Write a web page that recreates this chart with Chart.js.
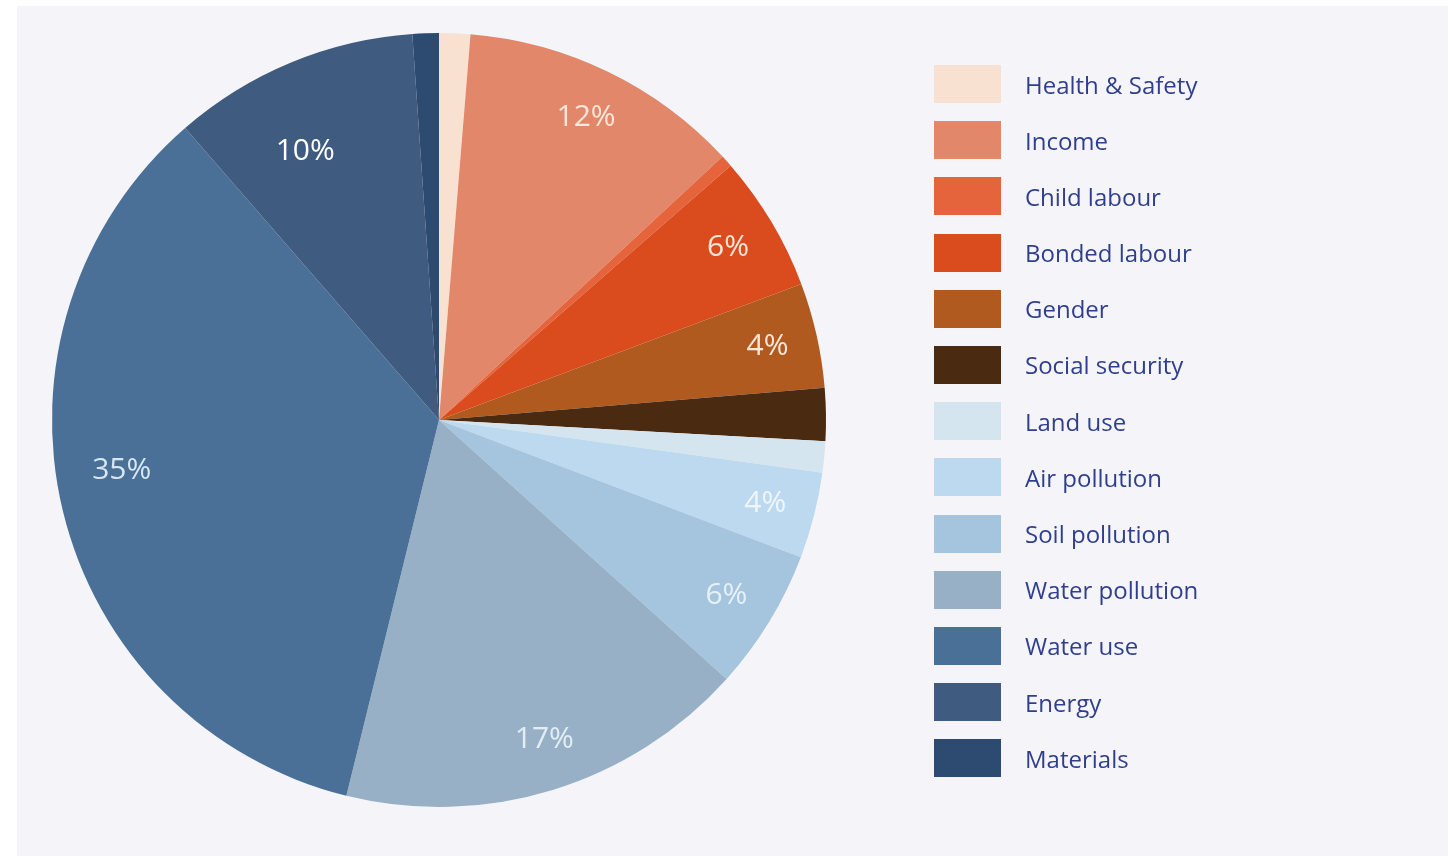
<!DOCTYPE html>
<html>
<head>
<meta charset="utf-8">
<script src="https://cdn.jsdelivr.net/npm/chart.js@4.4.1/dist/chart.umd.min.js"></script>
<style>
  html, body { margin: 0; padding: 0; background: #ffffff; width: 1448px; height: 858px; overflow: hidden; }
  #panel { position: absolute; left: 17px; top: 6px; right: 0; bottom: 2px; background: #f5f5f9; }
  #wrap { position: absolute; left: 0; top: 0; width: 1448px; height: 858px; }
  #legend { position: absolute; left: 934px; top: 65px; font-family: "Open Sans", sans-serif; font-size: 24px; color: #2f3f8e; }
  .item { display: flex; align-items: center; height: 38px; margin-bottom: 18.2px; }
  .box { width: 67px; height: 38px; margin-right: 24px; }
</style>
</head>
<body>
<div id="panel"></div>
<div id="wrap"><canvas id="c" width="1448" height="858"></canvas></div>
<div id="legend"></div>
<script>
const categories = ["Health & Safety", "Income", "Child labour", "Bonded labour", "Gender", "Social security",
  "Land use", "Air pollution", "Soil pollution", "Water pollution", "Water use", "Energy", "Materials"];
const shares = [1.3, 11.8, 0.5, 5.7, 4.4, 2.2, 1.3, 3.6, 5.9, 17.2, 34.8, 10.3, 1.1];
const colors = ["#f8e1d0", "#e2876a", "#e5643c", "#da4b1d", "#b15a1f", "#4a2b12",
  "#d4e5f0", "#bcd9ef", "#a5c4de", "#98b0c6", "#4b7098", "#3f5c80", "#2d4b70"];
const labelColors = ["#ffffff", "#fbe6da", "#ffffff", "#fbe6da", "#fbe6da", "#ffffff",
  "#ffffff", "#eef6fb", "#e6f1f5", "#e2eef4", "#d6e6f3", "#ffffff", "#ffffff"];

const legendEl = document.getElementById('legend');
categories.forEach((c, i) => {
  const d = document.createElement('div');
  d.className = 'item';
  d.innerHTML = '<div class="box" style="background:' + colors[i] + '"></div><span>' + c + '</span>';
  legendEl.appendChild(d);
});

const pctLabels = {
  id: 'pctLabels',
  afterDatasetsDraw(chart, args, opts) {
    const ctx = chart.ctx;
    const meta = chart.getDatasetMeta(0);
    const data = chart.data.datasets[0].data;
    ctx.save();
    ctx.textAlign = 'center';
    ctx.textBaseline = 'middle';
    ctx.font = '30px "Open Sans", sans-serif';
    meta.data.forEach((arc, i) => {
      if (data[i] < 3) return;
      const p = arc.getProps(['x', 'y', 'startAngle', 'endAngle', 'outerRadius']);
      const mid = (p.startAngle + p.endAngle) / 2 + (opts.angleShift[i] || 0);
      const r = p.outerRadius * (opts.radius[i] || 0.87);
      ctx.fillStyle = labelColors[i];
      ctx.fillText(Math.round(data[i]) + '%', p.x + Math.cos(mid) * r, p.y + Math.sin(mid) * r);
    });
    ctx.restore();
  }
};

new Chart(document.getElementById('c'), {
  type: 'pie',
  data: {
    labels: categories,
    datasets: [{ data: shares, backgroundColor: colors, borderWidth: 0 }]
  },
  options: {
    responsive: false,
    animation: false,
    layout: { padding: { left: 52, right: 622, top: 33, bottom: 51 } },
    plugins: {
      legend: { display: false },
      tooltip: { enabled: false },
      pctLabels: {
        radius: { 10: 0.83, 11: 0.775 },
        angleShift: { 9: -0.02, 10: 0.08, 11: -0.07 }
      }
    }
  },
  plugins: [pctLabels]
});
</script>
</body>
</html>
